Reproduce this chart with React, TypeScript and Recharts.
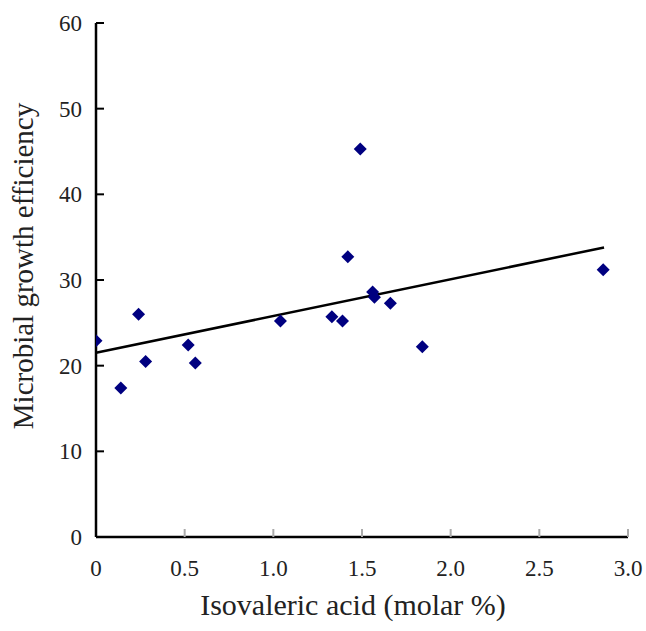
import React from "react";
import {
  ScatterChart,
  Scatter,
  XAxis,
  YAxis,
  ReferenceLine,
} from "recharts";

const isovaleric = [0.0, 0.14, 0.24, 0.28, 0.52, 0.56, 1.04, 1.33, 1.39, 1.42, 1.49, 1.56, 1.57, 1.66, 1.84, 2.86];
const efficiency = [22.9, 17.4, 26.0, 20.5, 22.4, 20.3, 25.2, 25.7, 25.2, 32.7, 45.3, 28.6, 28.0, 27.3, 22.2, 31.2];

const xTicks = [0, 0.5, 1.0, 1.5, 2.0, 2.5, 3.0];
const yTicks = [0, 10, 20, 30, 40, 50, 60];

// regression line endpoints
const trendX = [0, 2.865];
const trendY = [21.5, 33.8];

const points = isovaleric.map((x, i) => ({ x, y: efficiency[i] }));
const trend = trendX.map((x, i) => ({ x, y: trendY[i] }));

const FONT = "Liberation Serif";

const Diamond = (props: any) => {
  const { cx, cy } = props;
  const r = 6.5;
  return (
    <polygon
      points={`${cx},${cy - r} ${cx + r},${cy} ${cx},${cy + r} ${cx - r},${cy}`}
      fill="#000080"
    />
  );
};

const AxisTick = (props: any) => {
  const { x, y, payload, anchor, dy, fmt } = props;
  return (
    <text
      x={x}
      y={y}
      dy={dy}
      textAnchor={anchor}
      fontFamily={FONT}
      fontSize={23}
      fill="#222"
    >
      {fmt ? fmt(payload.value) : payload.value}
    </text>
  );
};

const YLabel = (props: any) => {
  const vb = props.viewBox;
  const cx = 23;
  const cy = vb.y + vb.height / 2 - 14;
  return (
    <text
      x={cx}
      y={cy}
      transform={`rotate(-90, ${cx}, ${cy})`}
      textAnchor="middle"
      dominantBaseline="central"
      fontFamily={FONT}
      fontSize={29}
      fill="#222"
    >
      Microbial growth efficiency
    </text>
  );
};

const XLabel = (props: any) => {
  const vb = props.viewBox;
  return (
    <text
      x={vb.x + vb.width / 2 - 9}
      y={615}
      textAnchor="middle"
      fontFamily={FONT}
      fontSize={30}
      fill="#222"
    >
      Isovaleric acid (molar %)
    </text>
  );
};

const fmtX = (v: number) => (v === 0 ? "0" : v.toFixed(1));

export default function App() {
  return (
    <div style={{ background: "#fff", width: 646, height: 631 }}>
      <style>{`html,body{margin:0;padding:0;overflow:hidden;}`}</style>
      <ScatterChart
        width={646}
        height={631}
        margin={{ top: 23, right: 18, bottom: 0, left: 0 }}
        style={{ overflow: "visible" }}
      >
        <XAxis
          type="number"
          dataKey="x"
          domain={[0, 3]}
          ticks={xTicks}
          height={94}
          tickSize={-8}
          tickMargin={31}
          axisLine={{ stroke: "#000", strokeWidth: 2.5 }}
          tickLine={{ stroke: "#aaa", strokeWidth: 2 }}
          tick={<AxisTick anchor="middle" dy={16} fmt={fmtX} />}
          label={<XLabel />}
          allowDataOverflow
        />
        <YAxis
          type="number"
          dataKey="y"
          domain={[0, 60]}
          ticks={yTicks}
          width={96}
          tickSize={-8}
          tickMargin={22}
          axisLine={{ stroke: "#000", strokeWidth: 2.5 }}
          tickLine={{ stroke: "#000", strokeWidth: 2 }}
          tick={<AxisTick anchor="end" dy={8} />}
          label={<YLabel />}
        />
        <ReferenceLine
          segment={trend}
          stroke="#000"
          strokeWidth={2.5}
          ifOverflow="visible"
        />
        <Scatter data={points} shape={<Diamond />} isAnimationActive={false} />
      </ScatterChart>
    </div>
  );
}
